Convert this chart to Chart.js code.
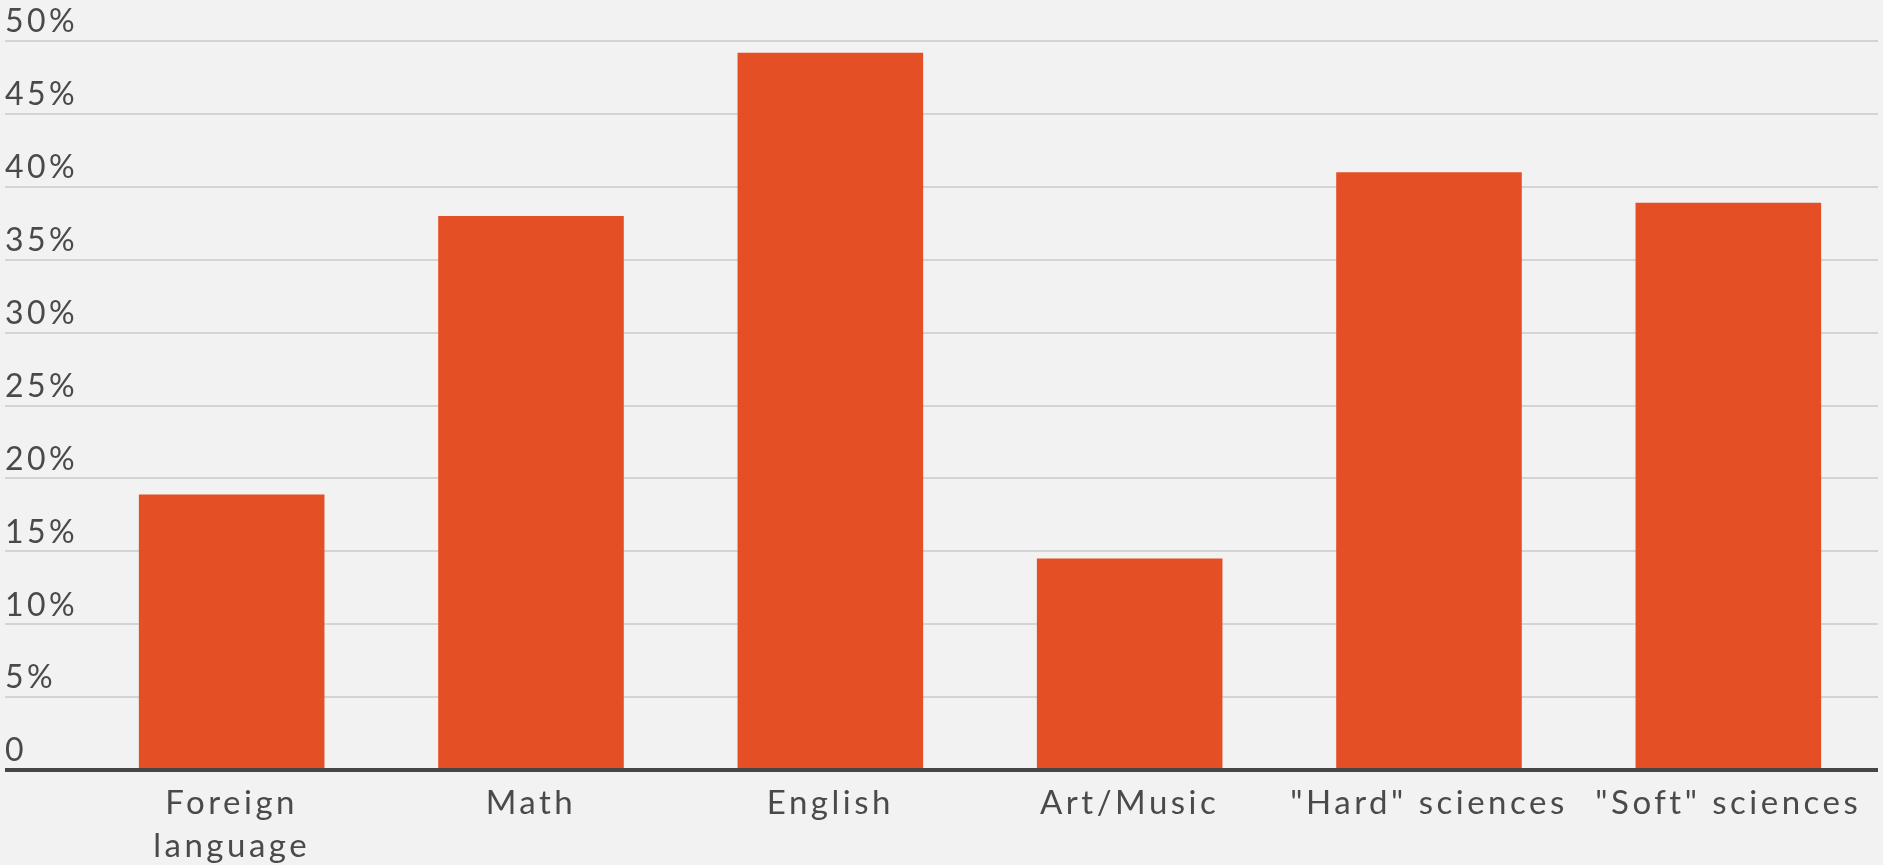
<!DOCTYPE html>
<html>
<head>
<meta charset="utf-8">
<script src="https://cdn.jsdelivr.net/npm/chart.js@4/dist/chart.umd.min.js"></script>
<style>
  html, body { margin: 0; padding: 0; background: #f2f2f2; }
  #wrap { width: 1883px; height: 865px; position: relative; }
</style>
</head>
<body>
<div id="wrap"><canvas id="subjects"></canvas></div>
<script>
const categories = [
  ["Foreign", "language"],
  "Math",
  "English",
  "Art/Music",
  "\"Hard\" sciences",
  "\"Soft\" sciences",
];
const shares = [18.9, 38.0, 49.2, 14.5, 41.0, 38.9];
const yTicks = [0, 5, 10, 15, 20, 25, 30, 35, 40, 45, 50];

const barColor = "#e54f25";
const textColor = "#4a4a4a";

// the canvas context loses letterSpacing on every resize, so put it back
const spacing = {
  id: "spacing",
  beforeUpdate(chart) {
    chart.ctx.letterSpacing = "3.5px";
  },
  beforeDraw(chart) {
    chart.ctx.letterSpacing = "3.5px";
  },
};

const ctx = document.getElementById("subjects").getContext("2d");

const myChart = new Chart(ctx, {
  type: "bar",
  data: {
    labels: categories,
    datasets: [
      {
        data: shares,
        backgroundColor: barColor,
        barPercentage: 0.62,
        categoryPercentage: 1,
      },
    ],
  },
  options: {
    responsive: true,
    maintainAspectRatio: false,
    animation: false,
    layout: {
      padding: { left: 5, right: 5, top: 41, bottom: 0 },
    },
    scales: {
      x: {
        afterFit(scale) {
          scale.height = 95;
        },
        grid: { display: false },
        border: { display: false },
        ticks: {
          color: textColor,
          font: { family: "Lato", size: 33, lineHeight: 1.3 },
          maxRotation: 0,
          autoSkip: false,
          padding: 4,
        },
      },
      y: {
        min: 0,
        max: 50,
        afterFit(scale) {
          scale.width = 77;
        },
        afterBuildTicks(scale) {
          scale.ticks = yTicks.map((v) => ({ value: v }));
        },
        border: { display: false },
        grid: {
          color: (c) => (c.tick && c.tick.value === 0 ? "#464646" : "#d4d4d4"),
          lineWidth: (c) => (c.tick && c.tick.value === 0 ? 4 : 2),
          tickLength: 77,
        },
        ticks: {
          color: textColor,
          font: { family: "Lato", size: 32 },
          crossAlign: "far",
          labelOffset: -19,
          callback: (v) => (v === 0 ? "0" : v + "%"),
        },
      },
    },
    plugins: {
      legend: { display: false },
      tooltip: { enabled: false },
    },
  },
  plugins: [spacing],
});
</script>
</body>
</html>
